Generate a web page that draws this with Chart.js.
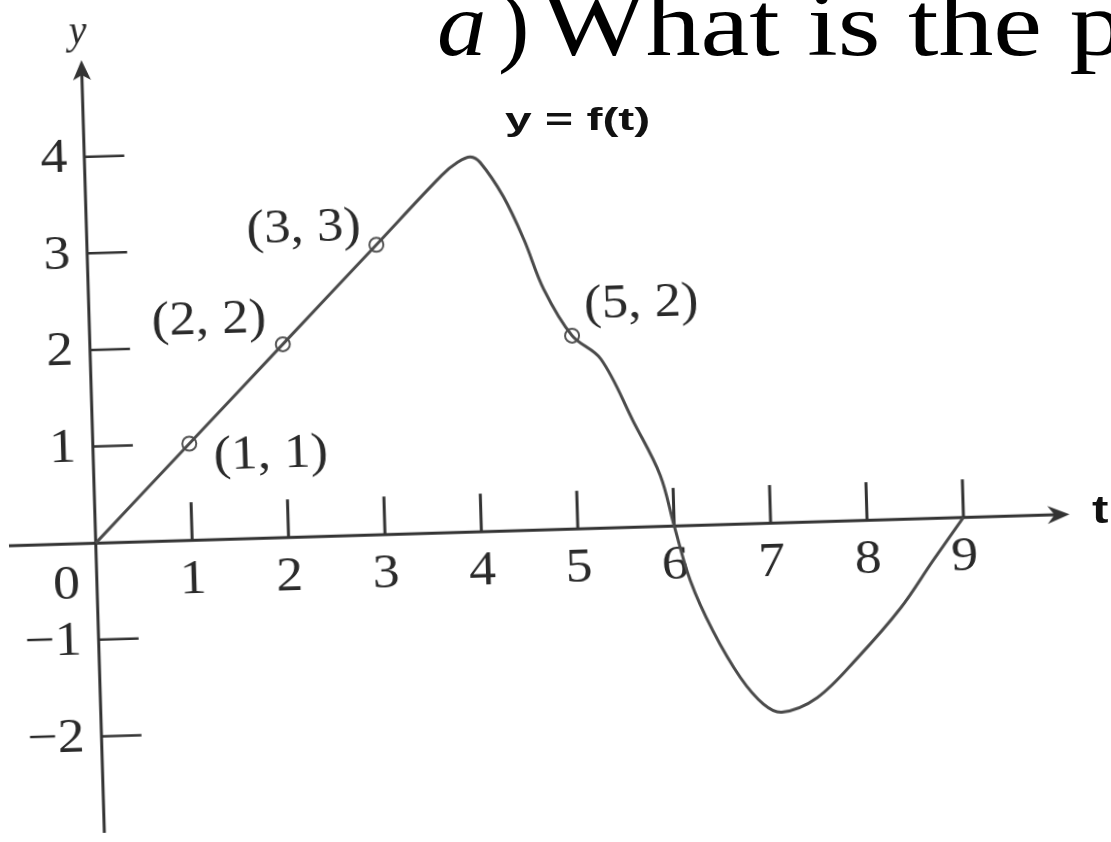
<!DOCTYPE html>
<html>
<head>
<meta charset="utf-8">
<script src="https://cdn.jsdelivr.net/npm/chart.js@4.4.1/dist/chart.umd.min.js"></script>
<style>
  html, body { margin: 0; padding: 0; background: #fff; width: 1111px; height: 842px; overflow: hidden; }
  #wrap { position: relative; width: 1111px; height: 842px; }
  #plot { position: absolute; left: 0; top: 0; transform: rotate(-1.7deg); transform-origin: 95px 545px; }
  .q { position: absolute; font-family: "Liberation Serif", "DejaVu Serif", serif; font-size: 90px; line-height: 90px; white-space: nowrap; color: #000; transform-origin: 0 0; }
  .tag { position: absolute; font-family: "Liberation Sans", Arial, sans-serif; font-weight: bold; white-space: nowrap; color: #111; transform-origin: 0 0; }
</style>
</head>
<body>
<div id="wrap">
  <canvas id="plot" width="1111" height="842"></canvas>
  <div class="q" style="left:437px; top:-20px; transform:scaleX(1.1);"><i>a</i></div>
  <div class="q" style="left:498px; top:-20px; transform:scaleX(1.05);">)</div>
  <div class="q" style="left:542px; top:-20px; transform:scaleX(1.22);">What is the p</div>
  <div class="tag" style="left:505px; top:103px; font-size:32px; line-height:32px; transform:scaleX(1.5);">y = f(t)</div>
  <div class="tag" style="left:1092px; top:491px; font-size:38px; line-height:38px; transform:scaleX(1.3);">t</div>
</div>
<script>
// Curve y = f(t), sampled along its path
const tValues = [0, 1, 2, 3, 3.7, 3.87, 4.0, 4.1, 4.33, 4.53, 4.72, 5, 5.29, 5.61, 5.87, 6, 6.15, 6.37, 6.64, 6.87, 7.06, 7.43, 7.86, 8.32, 8.67, 9];
const yValues = [0, 1, 2, 3, 3.7, 3.83, 3.88, 3.82, 3.46, 3.01, 2.49, 2, 1.75, 1.09, 0.53, 0, -0.57, -1.1, -1.59, -1.87, -1.96, -1.82, -1.42, -0.92, -0.44, 0];

// Marked points on the curve
const markT = [1, 2, 3, 5];
const markY = [1, 2, 3, 2];

// Axis ticks
const xTicks = [1, 2, 3, 4, 5, 6, 7, 8, 9];
const xTickLabels = ['1', '2', '3', '4', '5', '6', '7', '8', '9'];
const yTicks = [-2, -1, 1, 2, 3, 4];
const yTickLabels = ['\u22122', '\u22121', '1', '2', '3', '4'];
const originLabel = '0';
const yAxisTitle = 'y';

const INK = '#2a2a2a';
const AXIS = '#333';
const SERIF = '"Liberation Serif", "DejaVu Serif", serif';

function stretchedText(ctx, text, x, y, align, sx) {
  ctx.save();
  ctx.translate(x, y);
  ctx.scale(sx, 1);
  ctx.textAlign = align;
  ctx.textBaseline = 'middle';
  ctx.fillText(text, 0, 0);
  ctx.restore();
}

const handAxes = {
  id: 'handAxes',
  beforeDatasetsDraw(chart) {
    const { ctx, scales: { x, y } } = chart;
    const x0 = x.getPixelForValue(0);
    const y0 = y.getPixelForValue(0);
    const left = x.getPixelForValue(x.min);
    const right = x.getPixelForValue(x.max);
    const top = y.getPixelForValue(y.max);
    const bottom = y.getPixelForValue(y.min);

    ctx.save();
    ctx.strokeStyle = AXIS;
    ctx.fillStyle = AXIS;
    ctx.lineWidth = 3;

    // t axis with arrow
    ctx.beginPath();
    ctx.moveTo(left, y0);
    ctx.lineTo(right - 12, y0);
    ctx.stroke();
    ctx.beginPath();
    ctx.moveTo(right, y0);
    ctx.lineTo(right - 22, y0 - 9);
    ctx.lineTo(right - 15, y0);
    ctx.lineTo(right - 22, y0 + 9);
    ctx.closePath();
    ctx.fill();

    // y axis with arrow
    ctx.beginPath();
    ctx.moveTo(x0, bottom);
    ctx.lineTo(x0, top + 12);
    ctx.stroke();
    ctx.beginPath();
    ctx.moveTo(x0, top);
    ctx.lineTo(x0 - 9, top + 20);
    ctx.lineTo(x0, top + 15);
    ctx.lineTo(x0 + 9, top + 20);
    ctx.closePath();
    ctx.fill();

    // tick marks
    ctx.lineWidth = 3;
    xTicks.forEach(v => {
      const px = x.getPixelForValue(v);
      ctx.beginPath();
      ctx.moveTo(px, y0);
      ctx.lineTo(px, y0 - 38);
      ctx.stroke();
    });
    ctx.lineWidth = 2.5;
    yTicks.forEach(v => {
      const py = y.getPixelForValue(v);
      ctx.beginPath();
      ctx.moveTo(x0, py);
      ctx.lineTo(x0 + 40, py);
      ctx.stroke();
    });

    // tick labels
    ctx.fillStyle = INK;
    ctx.font = '48px ' + SERIF;
    xTicks.forEach((v, i) => {
      stretchedText(ctx, xTickLabels[i], x.getPixelForValue(v), y0 + 40, 'center', 1.12);
    });
    yTicks.forEach((v, i) => {
      stretchedText(ctx, yTickLabels[i], x0 - 17, y.getPixelForValue(v) + 2, 'right', 1.12);
    });
    stretchedText(ctx, originLabel, x0 - 17, y0 + 42, 'right', 1.12);

    // axis name
    ctx.font = 'italic 40px ' + SERIF;
    stretchedText(ctx, yAxisTitle, x0 - 3, top - 28, 'center', 1.0);
    ctx.restore();
  },
  afterDatasetsDraw(chart, args, opts) {
    const { ctx } = chart;
    const meta = chart.getDatasetMeta(1);
    ctx.save();
    ctx.fillStyle = INK;
    ctx.font = '48px ' + SERIF;
    meta.data.forEach((pt, i) => {
      const o = opts.offsets[i];
      stretchedText(ctx, '(' + markT[i] + ', ' + markY[i] + ')', pt.x + o.dx, pt.y + o.dy, o.align, 1.1);
    });
    ctx.restore();
  }
};

new Chart(document.getElementById('plot'), {
  type: 'line',
  data: {
    datasets: [
      {
        data: tValues.map((t, i) => ({ x: t, y: yValues[i] })),
        borderColor: '#4a4a4a',
        borderWidth: 3,
        pointRadius: 0,
        tension: 0.35,
        fill: false
      },
      {
        data: markT.map((t, i) => ({ x: t, y: markY[i] })),
        showLine: false,
        pointRadius: 7,
        pointBorderWidth: 2,
        pointBorderColor: '#555',
        pointBackgroundColor: '#fff'
      }
    ]
  },
  options: {
    responsive: false,
    animation: false,
    devicePixelRatio: 1,
    events: [],
    layout: { padding: { left: 8, right: 41, top: 60, bottom: 6 } },
    scales: {
      x: { type: 'linear', min: -0.9, max: 10.1, display: false },
      y: { type: 'linear', min: -3, max: 5, display: false }
    },
    plugins: {
      legend: { display: false },
      tooltip: { enabled: false },
      handAxes: {
        offsets: [
          { dx: 24, dy: 14, align: 'left' },
          { dx: -16, dy: -25, align: 'right' },
          { dx: -15, dy: -18, align: 'right' },
          { dx: 13, dy: -29, align: 'left' }
        ]
      }
    }
  },
  plugins: [handAxes]
});
</script>
</body>
</html>
